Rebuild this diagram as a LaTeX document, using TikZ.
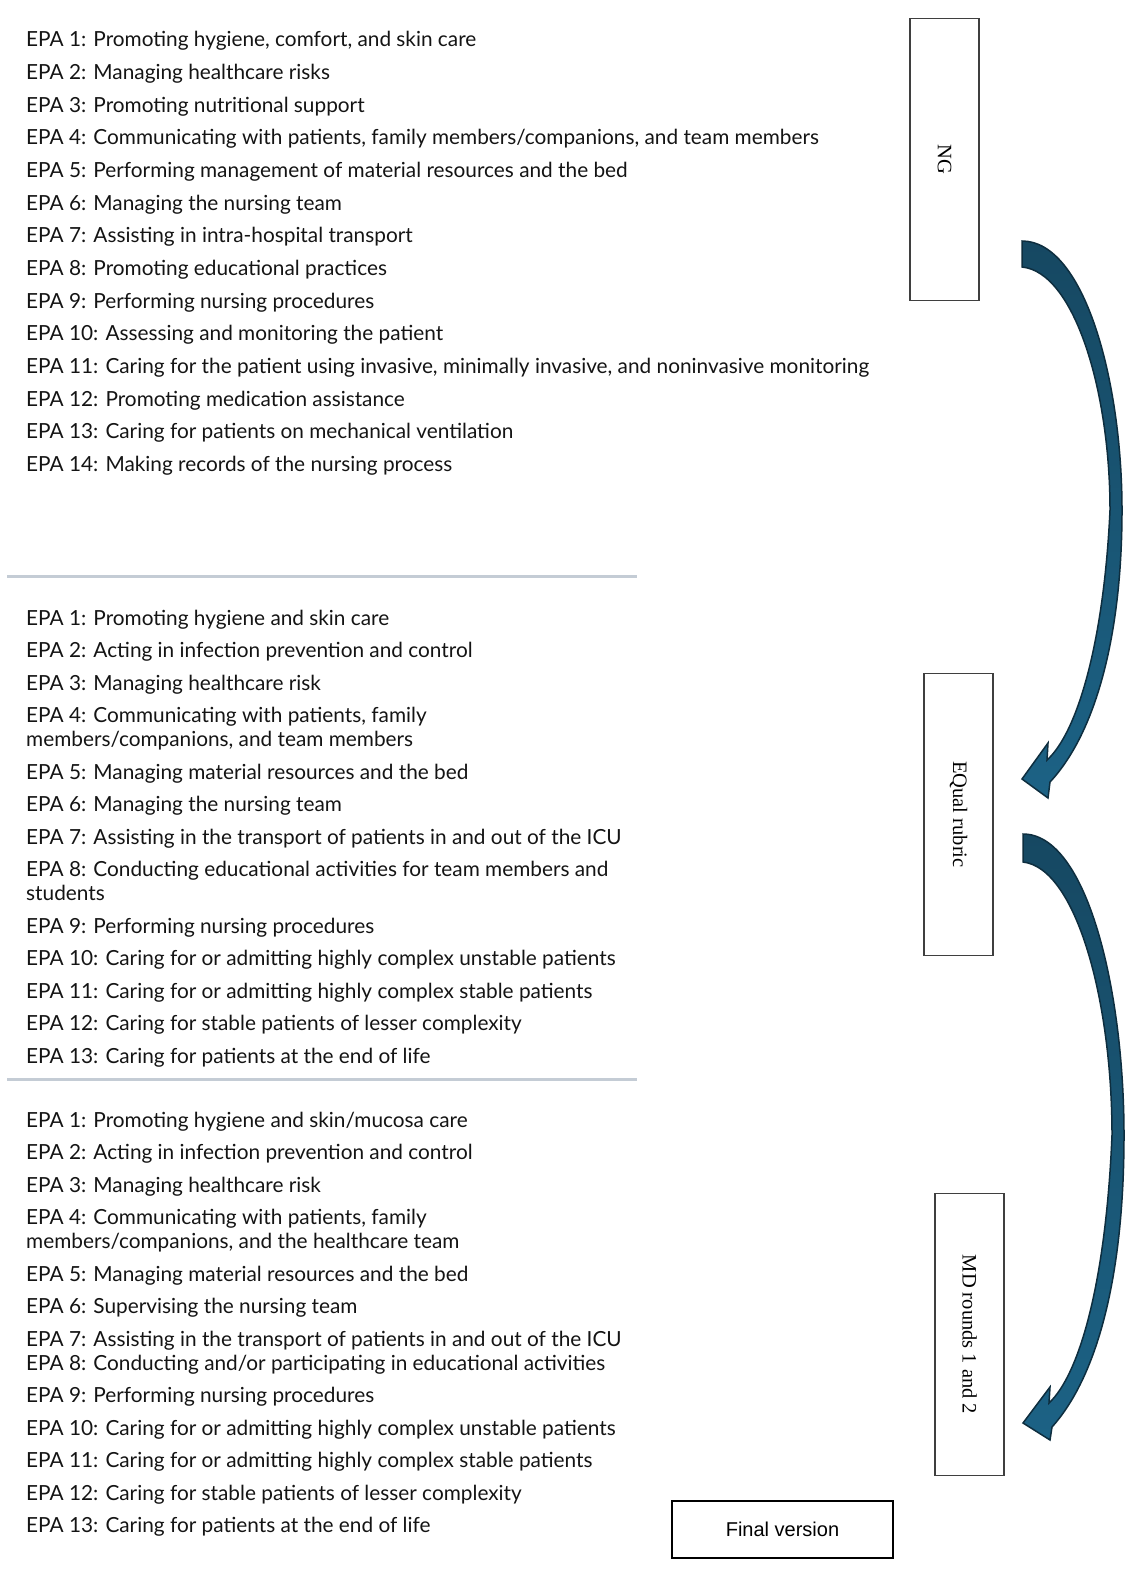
\documentclass[tikz,border=0pt]{standalone}
\usepackage{fontspec}
\usetikzlibrary{positioning}
\newfontfamily\epafont{Lato}
\newfontfamily\stagefont{Liberation Serif}
\newfontfamily\finalfont{Liberation Sans}
\definecolor{epaText}{HTML}{141414}
\definecolor{sepGray}{HTML}{C4CCD5}
\definecolor{boxGray}{HTML}{3F3F3F}
\definecolor{arrowTop}{HTML}{164862}
\definecolor{arrowBottom}{HTML}{1C6285}
\definecolor{arrowEdge}{HTML}{0E2E3F}
% size the list font so that the longest line is 843 wide
\newlength\epawidth
\AtBeginDocument{%
  \settowidth{\epawidth}{\epafont\fontsize{10}{12}\selectfont EPA 11: Caring for the patient using invasive, minimally invasive, and noninvasive monitoring}%
  \pgfmathsetmacro\epasize{10*843/\epawidth}}
\tikzset{
  epa item/.style={anchor=base west, inner sep=0pt, text=epaText,
    font=\epafont\fontsize{\epasize}{\epasize}\selectfont},
  separator/.style={draw=sepGray, line width=3pt},
  stage box/.style={draw=boxGray, line width=1.3pt, rotate=-90, inner sep=0pt,
    minimum width=282pt, minimum height=69pt,
    font=\stagefont\fontsize{20.5}{24}\selectfont},
  final box/.style={draw=black, line width=2.4pt, inner sep=0pt,
    minimum width=221pt, minimum height=57pt,
    font=\finalfont\fontsize{20}{24}\selectfont},
  stage arrow/.style={draw=arrowEdge, line width=1.5pt, line join=miter,
    top color=arrowTop, bottom color=arrowBottom},
}

\begin{document}
\begin{tikzpicture}[x=1pt, y=-1pt]
  \useasboundingbox (0,0) rectangle (1132,1573);

  % NG list
  \foreach \t [count=\i] in {
      {EPA 1: Promoting hygiene, comfort, and skin care},
      {EPA 2: Managing healthcare risks},
      {EPA 3: Promoting nutritional support},
      {EPA 4: Communicating with patients, family members/companions, and team members},
      {EPA 5: Performing management of material resources and the bed},
      {EPA 6: Managing the nursing team},
      {EPA 7: Assisting in intra-hospital transport},
      {EPA 8: Promoting educational practices},
      {EPA 9: Performing nursing procedures},
      {EPA 10: Assessing and monitoring the patient},
      {EPA 11: Caring for the patient using invasive, minimally invasive, and noninvasive monitoring},
      {EPA 12: Promoting medication assistance},
      {EPA 13: Caring for patients on mechanical ventilation},
      {EPA 14: Making records of the nursing process}} {
    \node[epa item] (ng-\i) at (26,{47+32.65*(\i-1)}) {\t};
  }

  \draw[separator] (7,576) -- (637,576);

  % EQual rubric list
  \foreach \y/\t [count=\i] in {
      625/{EPA 1: Promoting hygiene and skin care},
      657.5/{EPA 2: Acting in infection prevention and control},
      690/{EPA 3: Managing healthcare risk},
      722.5/{EPA 4: Communicating with patients, family},
      746.5/{members/companions, and team members},
      779/{EPA 5: Managing material resources and the bed},
      811.5/{EPA 6: Managing the nursing team},
      844/{EPA 7: Assisting in the transport of patients in and out of the ICU},
      876.5/{EPA 8: Conducting educational activities for team members and},
      900.5/{students},
      933/{EPA 9: Performing nursing procedures},
      965.5/{EPA 10: Caring for or admitting highly complex unstable patients},
      998/{EPA 11: Caring for or admitting highly complex stable patients},
      1030.5/{EPA 12: Caring for stable patients of lesser complexity},
      1063/{EPA 13: Caring for patients at the end of life}} {
    \node[epa item] (eq-\i) at (26,\y) {\t};
  }

  \draw[separator] (7,1079) -- (637,1079);

  % MD rounds list
  \foreach \y/\t [count=\i] in {
      1127/{EPA 1: Promoting hygiene and skin/mucosa care},
      1159.5/{EPA 2: Acting in infection prevention and control},
      1192/{EPA 3: Managing healthcare risk},
      1224.5/{EPA 4: Communicating with patients, family},
      1248.5/{members/companions, and the healthcare team},
      1281/{EPA 5: Managing material resources and the bed},
      1313.5/{EPA 6: Supervising the nursing team},
      1346/{EPA 7: Assisting in the transport of patients in and out of the ICU},
      1370/{EPA 8: Conducting and/or participating in educational activities},
      1402.5/{EPA 9: Performing nursing procedures},
      1435/{EPA 10: Caring for or admitting highly complex unstable patients},
      1467.5/{EPA 11: Caring for or admitting highly complex stable patients},
      1500/{EPA 12: Caring for stable patients of lesser complexity},
      1532.5/{EPA 13: Caring for patients at the end of life}} {
    \node[epa item] (md-\i) at (26,\y) {\t};
  }

  % stages
  \node[stage box] (ng) at (944.5,159.5) {NG};
  \node[stage box] (equal) at (958.5,814.5) {EQual rubric};
  \node[stage box] (rounds) at (969.5,1334.5) {MD rounds 1 and 2};
  \node[final box] (final) at (782.5,1529.5) {Final version};

  % curved arrows
  \shadedraw[stage arrow] (1022,241) .. controls (1084,241) and (1122,380) .. (1122,510)
    .. controls (1122,640) and (1094,735) .. (1050,782) -- (1048,798) -- (1022,779)
    -- (1048,743) -- (1047,760) .. controls (1078,732) and (1104,640) .. (1110,510)
    .. controls (1110,390) and (1074,272) .. (1022,267) -- cycle;
  \shadedraw[stage arrow] (1023,834) .. controls (1087,834) and (1124,990) .. (1124,1135)
    .. controls (1124,1280) and (1096,1378) .. (1052,1427) -- (1050,1440) -- (1023,1423)
    -- (1050,1387) -- (1049,1403) .. controls (1080,1374) and (1106,1280) .. (1112,1135)
    .. controls (1112,1000) and (1076,868) .. (1023,862) -- cycle;
\end{tikzpicture}
\end{document}
